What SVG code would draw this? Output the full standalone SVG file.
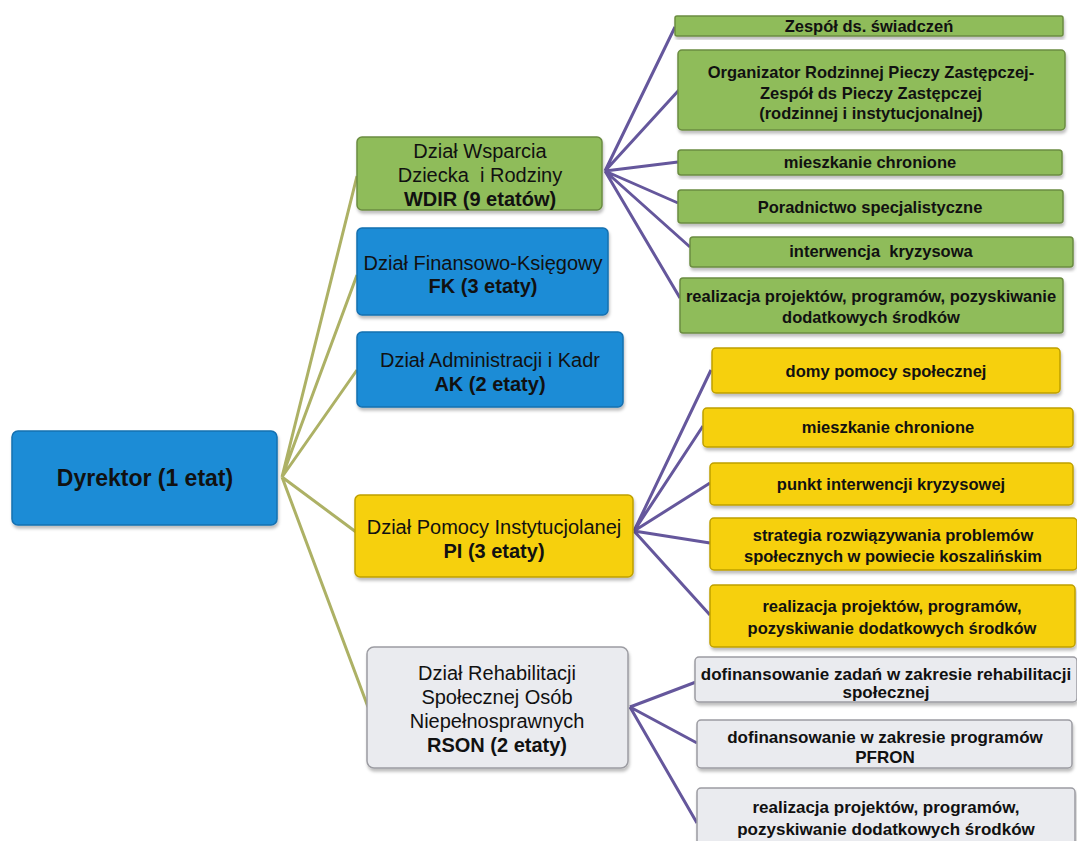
<svg xmlns="http://www.w3.org/2000/svg" width="1077" height="841" viewBox="0 0 1077 841">
<defs>
<filter id="sh" x="-5%" y="-10%" width="110%" height="130%">
<feDropShadow dx="1" dy="3" stdDeviation="1.5" flood-color="#000" flood-opacity="0.25"/>
</filter>
</defs>
<style>
text{font-family:"Liberation Sans",Arial,sans-serif;fill:#111;text-anchor:middle;dominant-baseline:central}
.blue{fill:#1b8cd6;stroke:#1670b0;stroke-width:1.5}
.green{fill:#8fbc5a;stroke:#6b8c40;stroke-width:1.5}
.yellow{fill:#f6d00c;stroke:#bfa000;stroke-width:1.5}
.grey{fill:#eaebef;stroke:#9c9ca2;stroke-width:1.5}
.d{font-size:20px}
.b{font-weight:bold}
.s{font-size:16.5px;font-weight:bold}
.sg{font-size:17px;font-weight:bold}
.ol{stroke:#adb165;stroke-width:3;fill:none}
.pu{stroke:#65579c;stroke-width:3;fill:none}
</style>
<rect width="1077" height="841" fill="#fff"/>
<g id="connectors">
<path class="ol" d="M282 477 L357 176 M282 477 L357 275 M282 477 L357 370 M282 477 L356 532 M282 477 L368 707"/>
<path class="pu" d="M605 171 L675 27 M605 171 L679 90 M605 171 L678 162 M605 171 L678 203 M605 171 L690 247 M605 171 L680 298"/>
<path class="pu" d="M634 531 L711 370 M634 531 L703 426 M634 531 L710 483 M634 531 L710 543 M634 531 L710 615"/>
<path class="pu" d="M630 707 L696 682 M630 707 L697 743 M630 707 L697 823"/>
</g>
<g id="dyrektor"><rect class="blue" filter="url(#sh)" x="12" y="431" width="265" height="94" rx="6"/><text class="b" x="145" y="478" font-size="23">Dyrektor (1 etat)</text></g>
<g id="wdir"><rect class="green" filter="url(#sh)" x="357" y="137" width="245" height="73" rx="5"/><text class="d" x="480" y="151">Dział Wsparcia</text><text class="d" x="480" y="175" xml:space="preserve">Dziecka  i Rodziny</text><text class="d b" x="480" y="199">WDIR (9 etatów)</text></g>
<g id="fk"><rect class="blue" filter="url(#sh)" x="357" y="228" width="251" height="87" rx="5"/><text class="d" x="483" y="263">Dział Finansowo-Księgowy</text><text class="d b" x="483" y="286">FK (3 etaty)</text></g>
<g id="ak"><rect class="blue" filter="url(#sh)" x="357" y="332" width="266" height="75" rx="5"/><text class="d" x="490" y="360">Dział Administracji i Kadr</text><text class="d b" x="490" y="384">AK (2 etaty)</text></g>
<g id="pi"><rect class="yellow" filter="url(#sh)" x="355" y="495" width="278" height="82" rx="5"/><text class="d" x="494" y="527" font-size="20.5">Dział Pomocy Instytucjolanej</text><text class="d b" x="494" y="551">PI (3 etaty)</text></g>
<g id="rson"><rect class="grey" filter="url(#sh)" x="367" y="647" width="261" height="121" rx="7"/><text class="d" x="497" y="673">Dział Rehabilitacji</text><text class="d" x="497" y="697">Społecznej Osób</text><text class="d" x="497" y="721">Niepełnosprawnych</text><text class="d b" x="497" y="745">RSON (2 etaty)</text></g>
<g id="g1"><rect class="green" filter="url(#sh)" x="675" y="16" width="388" height="20" rx="2"/><text class="s" x="869" y="26">Zespół ds. świadczeń</text></g>
<g id="g2"><rect class="green" filter="url(#sh)" x="678" y="50" width="387" height="80" rx="4"/><text class="s" x="871" y="72">Organizator Rodzinnej Pieczy Zastępczej-</text><text class="s" x="871" y="93">Zespół ds Pieczy Zastępczej</text><text class="s" x="871" y="113">(rodzinnej i instytucjonalnej)</text></g>
<g id="g3"><rect class="green" filter="url(#sh)" x="678" y="150" width="384" height="25" rx="3"/><text class="s" x="870" y="162">mieszkanie chronione</text></g>
<g id="g4"><rect class="green" filter="url(#sh)" x="678" y="190" width="385" height="33" rx="3"/><text class="s" x="870" y="207">Poradnictwo specjalistyczne</text></g>
<g id="g5"><rect class="green" filter="url(#sh)" x="690" y="237" width="383" height="30" rx="3"/><text class="s" x="881" y="251" xml:space="preserve">interwencja  kryzysowa</text></g>
<g id="g6"><rect class="green" filter="url(#sh)" x="680" y="278" width="383" height="55" rx="3"/><text class="s" x="871" y="296">realizacja projektów, programów, pozyskiwanie</text><text class="s" x="871" y="317">dodatkowych środków</text></g>
<g id="y1"><rect class="yellow" filter="url(#sh)" x="712" y="348" width="348" height="45" rx="4"/><text class="s" x="886" y="371">domy pomocy społecznej</text></g>
<g id="y2"><rect class="yellow" filter="url(#sh)" x="703" y="408" width="370" height="39" rx="4"/><text class="s" x="888" y="427">mieszkanie chronione</text></g>
<g id="y3"><rect class="yellow" filter="url(#sh)" x="710" y="463" width="363" height="42" rx="4"/><text class="s" x="891" y="484">punkt interwencji kryzysowej</text></g>
<g id="y4"><rect class="yellow" filter="url(#sh)" x="710" y="518" width="367" height="52" rx="4"/><text class="s" x="893" y="535">strategia rozwiązywania problemów</text><text class="s" x="893" y="556">społecznych w powiecie koszalińskim</text></g>
<g id="y5"><rect class="yellow" filter="url(#sh)" x="710" y="585" width="365" height="62" rx="4"/><text class="s" x="892" y="606">realizacja projektów, programów,</text><text class="s" x="892" y="628">pozyskiwanie dodatkowych środków</text></g>
<g id="r1"><rect class="grey" filter="url(#sh)" x="695" y="657" width="382" height="45" rx="4"/><text class="sg" x="886" y="674">dofinansowanie zadań w zakresie rehabilitacji</text><text class="sg" x="886" y="692">społecznej</text></g>
<g id="r2"><rect class="grey" filter="url(#sh)" x="697" y="720" width="375" height="48" rx="4"/><text class="sg" x="885" y="737">dofinansowanie w zakresie programów</text><text class="sg" x="885" y="757">PFRON</text></g>
<g id="r3"><rect class="grey" filter="url(#sh)" x="697" y="788" width="378" height="62" rx="4"/><text class="sg" x="886" y="807">realizacja projektów, programów,</text><text class="sg" x="886" y="829">pozyskiwanie dodatkowych środków</text></g>
</svg>
